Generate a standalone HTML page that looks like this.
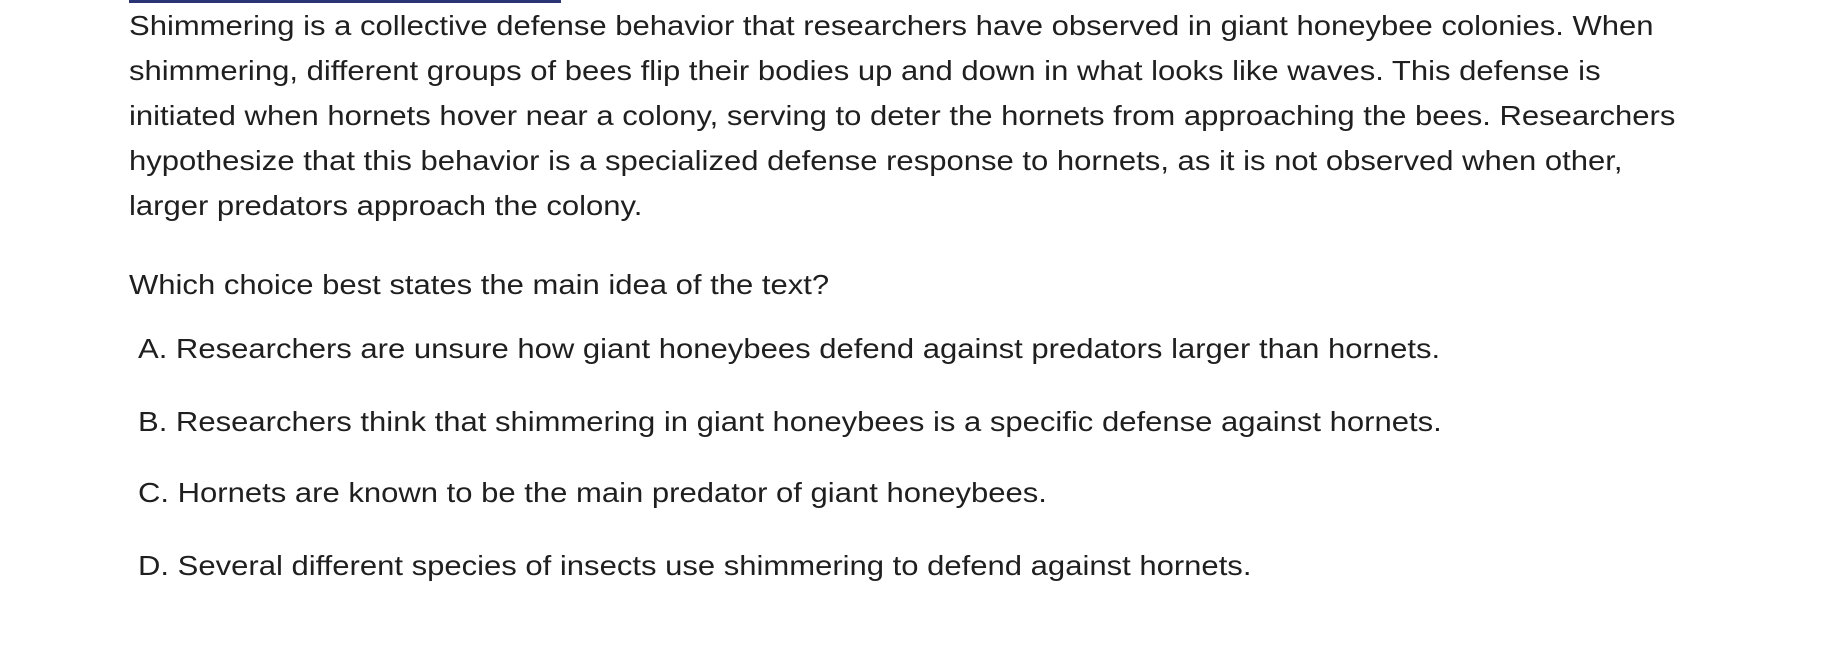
<!DOCTYPE html>
<html><head><meta charset="utf-8"><style>
html,body{margin:0;padding:0;background:#fff;}
body{width:1836px;height:648px;position:relative;overflow:hidden;font-family:"Liberation Sans",sans-serif;color:#1f1f1f;font-size:28px;}
.l{position:absolute;left:129px;white-space:nowrap;line-height:40px;height:40px;transform:scaleX(1.108);transform-origin:0 50%;}
.o{left:138px;}
</style></head><body>
<div style="position:absolute;left:129px;top:0;width:432px;height:3px;background:#2b3575;"></div>
<div>
<div class="l" style="top:6px">Shimmering is a collective defense behavior that researchers have observed in giant honeybee colonies. When</div>
<div class="l" style="top:51px">shimmering, different groups of bees flip their bodies up and down in what looks like waves. This defense is</div>
<div class="l" style="top:96px">initiated when hornets hover near a colony, serving to deter the hornets from approaching the bees. Researchers</div>
<div class="l" style="top:141px">hypothesize that this behavior is a specialized defense response to hornets, as it is not observed when other,</div>
<div class="l" style="top:186px">larger predators approach the colony.</div>
</div>
<div class="l" style="top:265px">Which choice best states the main idea of the text?</div>
<div class="l o" style="top:329px">A. Researchers are unsure how giant honeybees defend against predators larger than hornets.</div>
<div class="l o" style="top:402px">B. Researchers think that shimmering in giant honeybees is a specific defense against hornets.</div>
<div class="l o" style="top:473px">C. Hornets are known to be the main predator of giant honeybees.</div>
<div class="l o" style="top:546px">D. Several different species of insects use shimmering to defend against hornets.</div>
</body></html>
